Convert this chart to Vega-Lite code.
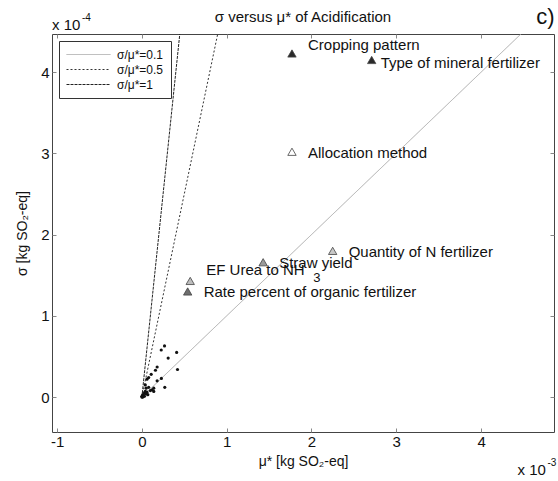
{
  "$schema": "https://vega.github.io/schema/vega-lite/v6.json",
  "width": 502,
  "height": 398,
  "autosize": {"type": "none"},
  "padding": {"left": 52, "top": 34, "right": 4, "bottom": 49},
  "background": "white",
  "config": {
    "font": "Liberation Sans",
    "view": {"stroke": "#444444", "strokeWidth": 1},
    "axis": {
      "grid": false, "domain": false, "tickSize": -4, "tickColor": "#888888",
      "labelFont": "Liberation Sans", "labelFontSize": 15, "labelColor": "#111111",
      "titleFont": "Liberation Sans", "titleFontSize": 14, "titleFontWeight": "normal", "titleColor": "#111111",
      "labelFlush": false
    },
    "legend": {
      "orient": "top-left", "offset": 7, "padding": 7, "strokeColor": "#333333", "fillColor": "white",
      "labelFontSize": 12, "labelFont": "Liberation Sans", "labelColor": "#111111",
      "symbolType": "M-1,0H6.33", "symbolSize": 144, "rowPadding": 2, "labelOffset": 38, "cornerRadius": 0
    }
  },
  "datasets": {
    "lines": [
      {"ratio": "σ/μ*=0.1", "mu": 0, "sigma": 0},
      {"ratio": "σ/μ*=0.1", "mu": 4.47, "sigma": 4.47},
      {"ratio": "σ/μ*=0.5", "mu": 0, "sigma": 0},
      {"ratio": "σ/μ*=0.5", "mu": 0.894, "sigma": 4.47},
      {"ratio": "σ/μ*=1", "mu": 0, "sigma": 0},
      {"ratio": "σ/μ*=1", "mu": 0.447, "sigma": 4.47}
    ],
    "dots": [
      {"mu": 0.267, "sigma": 0.63}, {"mu": 0.228, "sigma": 0.58}, {"mu": 0.41, "sigma": 0.55},
      {"mu": 0.31, "sigma": 0.48}, {"mu": 0.18, "sigma": 0.37}, {"mu": 0.16, "sigma": 0.33},
      {"mu": 0.42, "sigma": 0.34}, {"mu": 0.11, "sigma": 0.28}, {"mu": 0.23, "sigma": 0.23},
      {"mu": 0.18, "sigma": 0.2}, {"mu": 0.06, "sigma": 0.22}, {"mu": 0.08, "sigma": 0.24},
      {"mu": 0.27, "sigma": 0.12}, {"mu": 0.14, "sigma": 0.11}, {"mu": 0.12, "sigma": 0.09},
      {"mu": 0.14, "sigma": 0.07}, {"mu": 0.08, "sigma": 0.12}, {"mu": 0.04, "sigma": 0.15},
      {"mu": 0.05, "sigma": 0.11}, {"mu": 0.03, "sigma": 0.05}, {"mu": 0.02, "sigma": 0.01},
      {"mu": 0.01, "sigma": 0.03}, {"mu": 0.0, "sigma": 0.0}, {"mu": 0.01, "sigma": 0.0},
      {"mu": 0.02, "sigma": 0.02}, {"mu": 0.03, "sigma": 0.01}, {"mu": 0.0, "sigma": 0.01},
      {"mu": 0.05, "sigma": 0.04}, {"mu": 0.06, "sigma": 0.06}, {"mu": 0.1, "sigma": 0.08},
      {"mu": 0.04, "sigma": 0.07}, {"mu": 0.07, "sigma": 0.03}
    ],
    "factors": [
      {"label": "Cropping pattern", "mu": 1.77, "sigma": 4.23},
      {"label": "Type of mineral fertilizer", "mu": 2.71, "sigma": 4.15},
      {"label": "Allocation method", "mu": 1.77, "sigma": 3.02},
      {"label": "Quantity of N fertilizer", "mu": 2.25, "sigma": 1.8},
      {"label": "Straw yield", "mu": 1.43, "sigma": 1.66},
      {"label": "EF Urea to NH3", "mu": 0.57, "sigma": 1.43},
      {"label": "Rate percent of organic fertilizer", "mu": 0.54, "sigma": 1.3}
    ]
  },
  "layer": [
    {
      "data": {"name": "lines"},
      "mark": {"type": "line", "clip": true},
      "encoding": {
        "x": {"field": "mu", "type": "quantitative", "scale": {"domain": [-1.06, 4.86], "nice": false, "zero": false},
              "axis": {"values": [-1, 0, 1, 2, 3, 4], "labelExpr": "'' + datum.value", "labelPadding": 6, "title": "μ* [kg SO₂-eq]", "titlePadding": 5}},
        "y": {"field": "sigma", "type": "quantitative", "scale": {"domain": [-0.43, 4.47], "nice": false, "zero": false},
              "axis": {"values": [0, 1, 2, 3, 4], "labelExpr": "'' + datum.value", "labelPadding": 7, "title": "σ [kg SO₂-eq]", "titlePadding": 11}},
        "stroke": {"field": "ratio", "type": "nominal",
                   "scale": {"domain": ["σ/μ*=0.1", "σ/μ*=0.5", "σ/μ*=1"], "range": ["#aaaaaa", "#333333", "#222222"]},
                   "legend": {"title": null}},
        "strokeDash": {"field": "ratio", "type": "nominal",
                   "scale": {"domain": ["σ/μ*=0.1", "σ/μ*=0.5", "σ/μ*=1"], "range": [[1, 0], [2, 2], [3, 1]]},
                   "legend": {"title": null}},
        "strokeWidth": {"field": "ratio", "type": "nominal",
                   "scale": {"domain": ["σ/μ*=0.1", "σ/μ*=0.5", "σ/μ*=1"], "range": [1, 1, 1.8]},
                   "legend": {"title": null}}
      }
    },
    {
      "data": {"name": "dots"},
      "mark": {"type": "point", "filled": true, "shape": "circle", "size": 10, "color": "#111111", "opacity": 1},
      "encoding": {
        "x": {"field": "mu", "type": "quantitative", "axis": {"orient": "top", "values": [-1, 0, 1, 2, 3, 4], "labels": false, "title": null}},
        "y": {"field": "sigma", "type": "quantitative", "axis": {"orient": "right", "values": [0, 1, 2, 3, 4], "labels": false, "title": null}}
      }
    },
    {
      "data": {"name": "factors"},
      "mark": {"type": "point", "filled": true, "shape": "triangle-up", "size": 70, "stroke": "#444444", "strokeWidth": 0.8, "opacity": 1},
      "encoding": {
        "x": {"field": "mu", "type": "quantitative", "axis": null},
        "y": {"field": "sigma", "type": "quantitative", "axis": null},
        "fill": {"field": "label", "type": "nominal", "legend": null,
                 "scale": {"domain": ["Cropping pattern", "Type of mineral fertilizer", "Allocation method", "Quantity of N fertilizer", "Straw yield", "EF Urea to NH3", "Rate percent of organic fertilizer"],
                           "range": ["#2a2a2a", "#2a2a2a", "#ffffff", "#c8c8c8", "#9a9a9a", "#bdbdbd", "#6e6e6e"]}}
      }
    },
    {
      "data": {"name": "factors"},
      "transform": [{"filter": {"field": "label", "oneOf": ["Allocation method", "Quantity of N fertilizer", "Straw yield", "Rate percent of organic fertilizer"]}}],
      "mark": {"type": "text", "align": "left", "baseline": "middle", "dx": 16, "dy": 1, "fontSize": 15, "color": "#111111"},
      "encoding": {
        "x": {"field": "mu", "type": "quantitative", "axis": null},
        "y": {"field": "sigma", "type": "quantitative", "axis": null},
        "text": {"field": "label"}
      }
    },
    {
      "data": {"name": "factors"},
      "transform": [{"filter": {"field": "label", "equal": "Cropping pattern"}}],
      "mark": {"type": "text", "align": "left", "baseline": "middle", "dx": 16, "dy": -8, "fontSize": 15, "color": "#111111"},
      "encoding": {
        "x": {"field": "mu", "type": "quantitative", "axis": null},
        "y": {"field": "sigma", "type": "quantitative", "axis": null},
        "text": {"field": "label"}
      }
    },
    {
      "data": {"name": "factors"},
      "transform": [{"filter": {"field": "label", "equal": "Type of mineral fertilizer"}}],
      "mark": {"type": "text", "align": "left", "baseline": "middle", "dx": 9, "dy": 3, "fontSize": 15, "color": "#111111"},
      "encoding": {
        "x": {"field": "mu", "type": "quantitative", "axis": null},
        "y": {"field": "sigma", "type": "quantitative", "axis": null},
        "text": {"field": "label"}
      }
    },
    {
      "data": {"name": "factors"},
      "transform": [{"filter": {"field": "label", "equal": "EF Urea to NH3"}}],
      "mark": {"type": "text", "align": "left", "baseline": "middle", "dx": 16, "dy": -11, "fontSize": 15, "color": "#111111"},
      "encoding": {
        "x": {"field": "mu", "type": "quantitative", "axis": null},
        "y": {"field": "sigma", "type": "quantitative", "axis": null},
        "text": {"value": "EF Urea to NH"}
      }
    },
    {
      "data": {"name": "factors"},
      "transform": [{"filter": {"field": "label", "equal": "EF Urea to NH3"}}],
      "mark": {"type": "text", "align": "left", "baseline": "middle", "dx": 123, "dy": -3, "fontSize": 13, "color": "#111111"},
      "encoding": {
        "x": {"field": "mu", "type": "quantitative", "axis": null},
        "y": {"field": "sigma", "type": "quantitative", "axis": null},
        "text": {"value": "3"}
      }
    },
    {
      "data": {"values": [{}]},
      "mark": {"type": "text", "align": "center", "baseline": "middle", "fontSize": 15, "color": "#111111"},
      "encoding": {"x": {"datum": 1.9, "type": "quantitative", "axis": null}, "y": {"datum": 4.68, "type": "quantitative", "axis": null}, "text": {"value": "σ versus μ* of Acidification"}}
    },
    {
      "data": {"values": [{}]},
      "mark": {"type": "text", "align": "left", "baseline": "middle", "fontSize": 15, "color": "#111111"},
      "encoding": {"x": {"datum": -1.06, "type": "quantitative", "axis": null}, "y": {"datum": 4.58, "type": "quantitative", "axis": null}, "text": {"value": "x 10"}}
    },
    {
      "data": {"values": [{}]},
      "mark": {"type": "text", "align": "left", "baseline": "middle", "fontSize": 10, "dx": 30, "dy": -7, "color": "#111111"},
      "encoding": {"x": {"datum": -1.06, "type": "quantitative", "axis": null}, "y": {"datum": 4.58, "type": "quantitative", "axis": null}, "text": {"value": "-4"}}
    },
    {
      "data": {"values": [{}]},
      "mark": {"type": "text", "align": "left", "baseline": "middle", "fontSize": 15, "color": "#111111"},
      "encoding": {"x": {"datum": 4.43, "type": "quantitative", "axis": null}, "y": {"datum": -0.9, "type": "quantitative", "axis": null}, "text": {"value": "x 10"}}
    },
    {
      "data": {"values": [{}]},
      "mark": {"type": "text", "align": "left", "baseline": "middle", "fontSize": 10, "dx": 30, "dy": -7, "color": "#111111"},
      "encoding": {"x": {"datum": 4.43, "type": "quantitative", "axis": null}, "y": {"datum": -0.9, "type": "quantitative", "axis": null}, "text": {"value": "-3"}}
    },
    {
      "data": {"values": [{}]},
      "mark": {"type": "text", "align": "center", "baseline": "middle", "fontSize": 22, "color": "#111111"},
      "encoding": {"x": {"datum": 4.76, "type": "quantitative", "axis": null}, "y": {"datum": 4.68, "type": "quantitative", "axis": null}, "text": {"value": "c)"}}
    }
  ],
  "resolve": {"axis": {"x": "independent", "y": "independent"}}
}
